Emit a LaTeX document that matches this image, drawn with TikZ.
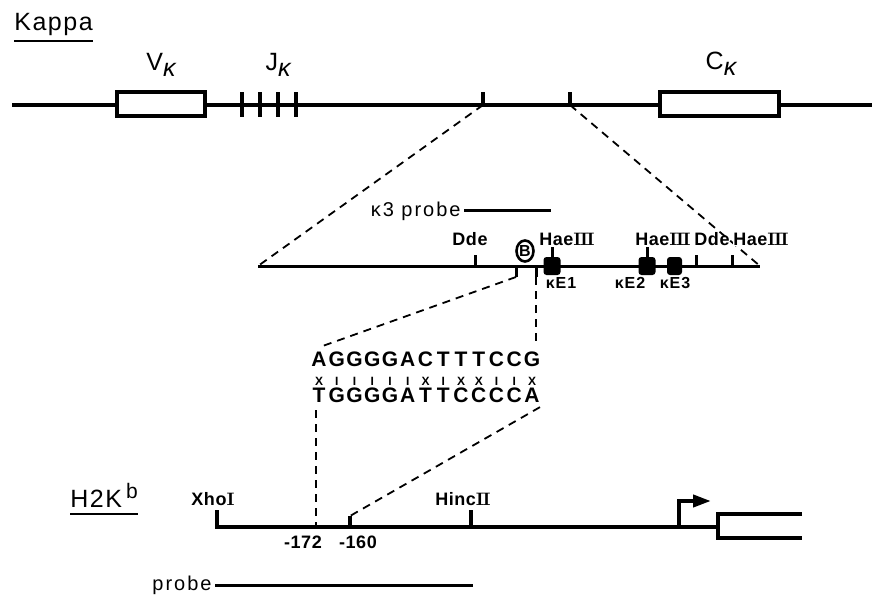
\documentclass[tikz,border=0pt]{standalone}
\usepackage{fontspec}
\usepackage{tikz}
\usetikzlibrary{arrows.meta,shapes.geometric}
\newfontfamily\lab{Liberation Sans}
\newcommand{\rnum}[1]{{\rmfamily\bfseries #1}}
\newcommand{\rIII}{\rnum{I\kern-0.7ptI\kern-0.7ptI}}
\newcommand{\rII}{\rnum{I\kern-0.7ptI}}
\tikzset{
  gene/.style={line width=2pt},
  thin gene/.style={line width=1.5pt},
  exon/.style={draw,line width=2pt,fill=white,minimum height=12pt,inner sep=0pt},
  enh/.style={fill=black,rounded corners=1.5pt,minimum width=8.5pt,minimum height=9pt,inner sep=0pt},
  zoomln/.style={line width=0.9pt,dash pattern=on 4pt off 3pt},
  title/.style={font=\lab\fontsize{12.5}{14}\selectfont\addfontfeature{LetterSpace=6},inner sep=0pt},
  site/.style={font=\lab\bfseries\fontsize{9}{10}\selectfont\addfontfeature{LetterSpace=3},inner sep=0.5pt},
  enhlbl/.style={font=\lab\bfseries\fontsize{8}{9}\selectfont\addfontfeature{LetterSpace=6},inner sep=0.5pt},
  probelbl/.style={font=\lab\fontsize{10}{11}\selectfont\addfontfeature{LetterSpace=10},inner sep=0pt},
  nt/.style={font=\lab\bfseries\fontsize{10.5}{11}\selectfont,inner sep=0pt},
  mm/.style={font=\lab\bfseries\fontsize{6}{7}\selectfont,inner sep=0pt},
}

\begin{document}
\begin{tikzpicture}[x=0.5pt,y=-0.5pt]
\useasboundingbox (0,0) rectangle (874,595);
% kappa locus
\node[title,anchor=base west] (kap) at (14,30) {Kappa};
\draw[line width=1.2pt] ([yshift=-5.5pt]kap.base west) -- ([yshift=-5.5pt]kap.base east);
\draw[gene] (12,105) -- (872,105);
\node[exon,minimum width=44pt] (vk) at (161,104) {};
\node[exon,minimum width=59.5pt] (ck) at (719.5,103.5) {};
\foreach \x in {242,260,278,296} \draw[gene] (\x,92) -- (\x,117);
\node[title,anchor=base] (vlab) at (161,70) {V\raisebox{-3pt}{\itshape κ}};
\node[title,anchor=base] (jlab) at (278,70) {J\raisebox{-3pt}{\itshape κ}};
\node[title,anchor=base] (clab) at (721,69) {C\raisebox{-3pt}{\itshape κ}};
\coordinate (t1) at (483,105); \coordinate (t2) at (570,105);
\draw[gene] (t1) -- ++(0,-13); \draw[gene] (t2) -- ++(0,-13);
% enhancer region
\coordinate (mL) at (258,266); \coordinate (mR) at (760,266);
\draw[zoomln] (t1) -- (mL); \draw[zoomln] (t2) -- (mR);
\node[probelbl,anchor=base east] (kp) at (461,216) {κ3 probe};
\draw[thin gene] ([xshift=1.5pt]kp.east) -- ++(87,0);
\draw[thin gene] (mL) -- (mR);
\foreach \x in {475,696,732} \draw[thin gene] (\x,266) -- (\x,255);
\coordinate (d1) at (516,277); \coordinate (d2) at (536,277);
\draw[thin gene] (516,266) -- (d1); \draw[thin gene] (536,266) -- (d2);
\node[enh] (e1) at (552,266) {};
\node[enh] (e2) at (647,266) {};
\node[enh,minimum width=7.5pt] (e3) at (674.5,266) {};
\draw[thin gene] (e1.north) -- ++(0,-10); \draw[thin gene] (e2.north) -- ++(0,-10);
\node[site,anchor=base] (dde1) at (470,245) {Dde};
\node[site,anchor=base] (hae1) at (567,245) {Hae\rIII};
\node[site,anchor=base] (hae2) at (663,245) {Hae\rIII};
\node[site,anchor=base] (dde2) at (712,245) {Dde};
\node[site,anchor=base,fill=white,inner sep=0.2pt] (hae3) at (761,245) {Hae\rIII};
\node[ellipse,draw,line width=1.3pt,inner sep=0pt,minimum width=8.5pt,minimum height=10.5pt,font=\lab\bfseries\fontsize{8}{8}\selectfont] (bsite) at (525,251) {B};
\node[enhlbl,anchor=base] (k1) at (561,288) {κE1};
\node[enhlbl,anchor=base] (k2) at (630,288) {κE2};
\node[enhlbl,anchor=base] (k3) at (675,288) {κE3};
% sequence comparison
\foreach \b [count=\i] in {A,G,G,G,G,A,C,T,T,T,C,C,G}
  \node[nt] (a\i) at ({319+17.75*(\i-1)},359.5) {\b};
\foreach \b [count=\i] in {X,I,I,I,I,I,X,I,X,X,I,I,X}
  \node[mm] (m\i) at ({319+17.75*(\i-1)},381) {\b};
\foreach \b [count=\i] in {T,G,G,G,G,A,T,T,C,C,C,C,A}
  \node[nt] (b\i) at ({319+17.75*(\i-1)},395.5) {\b};
\coordinate (s2) at (536,346); \coordinate (s3) at (316,410);
\draw[zoomln] (d1) -- ([xshift=2pt,yshift=3pt]a1.north);
\draw[zoomln] (d2) -- (s2);
% H2K promoter
\node[title,anchor=base west] (h2k) at (70,507) {H2K\kern2pt\raisebox{4.5pt}{\fontsize{10.5}{11}\selectfont b}};
\draw[line width=1.2pt] ([yshift=-3.5pt]h2k.base west) -- ([yshift=-3.5pt]h2k.base east);
\coordinate (x172) at (316,527); \coordinate (x160) at (350,516);
\draw[zoomln] (s3) -- (x172);
\draw[zoomln] ([yshift=-2pt]b13.south east) -- (x160);
\draw[gene] (217,510) -- (217,527) -- (718,527);
\draw[gene] (471,510) -- (471,527);
\draw[gene] (x160) -- (350,527);
\node[site,anchor=base] (xho) at (213,505) {Xho\rnum{I}};
\node[site,anchor=base] (hinc) at (463,505) {Hinc\rII};
\node[site,anchor=base] (n172) at (303,548) {-172};
\node[site,anchor=base] (n160) at (358,548) {-160};
\coordinate (tss) at (679,527);
\draw[gene,-{Triangle[length=9pt,width=6pt]}] (tss) -- (679,501) -- (711,501);
\draw[gene] (802,514) -- (718,514) -- (718,538) -- (802,538);
\coordinate (pe) at (473,585);
\node[probelbl,anchor=base east] (pr) at (212,590) {probe};
\draw[thin gene] ([xshift=1.5pt]pr.east |- pe) -- (pe);
\end{tikzpicture}
\end{document}
